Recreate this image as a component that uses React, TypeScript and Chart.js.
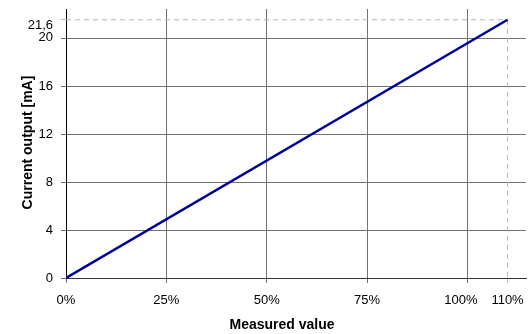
import React, { useEffect, useRef } from 'react';
import { Chart, registerables } from 'chart.js';

Chart.register(...registerables);

const measuredPercent = [0, 110];
const currentMA = [0, 21.6];
const xTickValues = [0, 25, 50, 75, 100, 110];
const yTickValues = [0, 4, 8, 12, 16, 20, 21.6];
const xLimit = 110;
const yLimit = 21.6;
const xTitle = 'Measured value';
const yTitle = 'Current output [mA]';

const FONT = '"Liberation Sans", Arial, Helvetica, sans-serif';

export default function App() {
  const ref = useRef<HTMLCanvasElement | null>(null);

  useEffect(() => {
    if (!ref.current) return;
    Chart.defaults.font.family = FONT;
    Chart.defaults.font.size = 13;
    Chart.defaults.color = '#000';

    const titlePlugin = {
      id: 'axisTitles',
      afterDraw(chart: any) {
        const { ctx, chartArea } = chart;
        ctx.save();
        ctx.fillStyle = '#000';
        ctx.textAlign = 'center';
        ctx.textBaseline = 'middle';
        ctx.font = `bold 14px ${FONT}`;
        ctx.fillText(xTitle, chartArea.left + 216, chartArea.bottom + 47);
        ctx.translate(chartArea.left - 37.5, (chartArea.top + chartArea.bottom) / 2 - 1);
        ctx.rotate(-Math.PI / 2);
        ctx.fillText(yTitle, 0, 0);
        ctx.restore();
      },
    };

    const lineData = measuredPercent.map((x, i) => ({ x, y: currentMA[i] }));

    const chart = new Chart(ref.current, {
      type: 'line',
      data: {
        datasets: [
          {
            data: [
              { x: 0, y: yLimit },
              { x: xLimit, y: yLimit },
            ],
            borderColor: '#b8b8b8',
            borderWidth: 1,
            borderDash: [5, 4],
            pointRadius: 0,
            order: 2,
          },
          {
            data: [
              { x: xLimit, y: yLimit },
              { x: xLimit, y: 0 },
            ],
            borderColor: '#b8b8b8',
            borderWidth: 1,
            borderDash: [5, 4],
            pointRadius: 0,
            order: 2,
          },
          {
            data: lineData,
            borderColor: '#000099',
            borderWidth: 2.5,
            pointRadius: 0,
            order: 1,
          },
        ],
      },
      options: {
        animation: false,
        responsive: false,
        maintainAspectRatio: false,
        layout: { padding: { top: 9, right: 2, left: 0, bottom: 0 } },
        plugins: {
          legend: { display: false },
          tooltip: { enabled: false },
        },
        scales: {
          x: {
            type: 'linear',
            min: 0,
            max: 114.6,
            afterBuildTicks: (scale: any) => {
              scale.ticks = xTickValues.map((v) => ({ value: v }));
            },
            afterFit: (scale: any) => {
              scale.height = 56;
              scale.paddingLeft = 0;
              scale.paddingRight = 0;
            },
            ticks: {
              autoSkip: false,
              maxRotation: 0,
              padding: 10,
              color: '#000',
              font: { size: 13 },
              callback: (v: any) => (v === 100 ? `${v}%\u2002\u2002` : `${v}%`),
            },
            grid: {
              color: (c: any) => (c.tick && c.tick.value === xLimit ? 'rgba(0,0,0,0)' : '#707070'),
              tickColor: (c: any) => (c.tick && c.tick.value === xLimit ? '#b8b8b8' : '#707070'),
              tickLength: 5,
              lineWidth: 1,
            },
            border: { color: '#303030', width: 1 },
          },
          y: {
            type: 'linear',
            min: 0,
            max: 22.5,
            afterBuildTicks: (scale: any) => {
              scale.ticks = yTickValues.map((v) => ({ value: v }));
            },
            afterFit: (scale: any) => {
              scale.width = 66;
              scale.paddingTop = 0;
              scale.paddingBottom = 0;
            },
            ticks: {
              autoSkip: false,
              padding: 8,
              color: '#000',
              font: (c: any) => {
                const v = c.tick ? c.tick.value : null;
                if (v === yLimit) return { size: 13, lineHeight: 0.85 };
                if (v === 20) return { size: 13, lineHeight: 0.23 };
                return { size: 13 };
              },
              callback: (v: any) => {
                const s = String(v).replace('.', ',');
                if (v === yLimit) return ['', s];
                if (v === 20) return [s, ''];
                return s;
              },
            },
            grid: {
              color: (c: any) => (c.tick && c.tick.value === yLimit ? 'rgba(0,0,0,0)' : '#707070'),
              tickColor: (c: any) => (c.tick && c.tick.value === yLimit ? '#b8b8b8' : '#707070'),
              tickLength: 5,
              lineWidth: 1,
            },
            border: { color: '#000', width: 1 },
          },
        },
      },
      plugins: [titlePlugin],
    });

    return () => chart.destroy();
  }, []);

  return (
    <div style={{ position: 'fixed', left: 0, top: 0, width: 528, height: 334, background: '#fff' }}>
      <canvas ref={ref} width={528} height={334} style={{ display: 'block', width: 528, height: 334 }} />
    </div>
  );
}
